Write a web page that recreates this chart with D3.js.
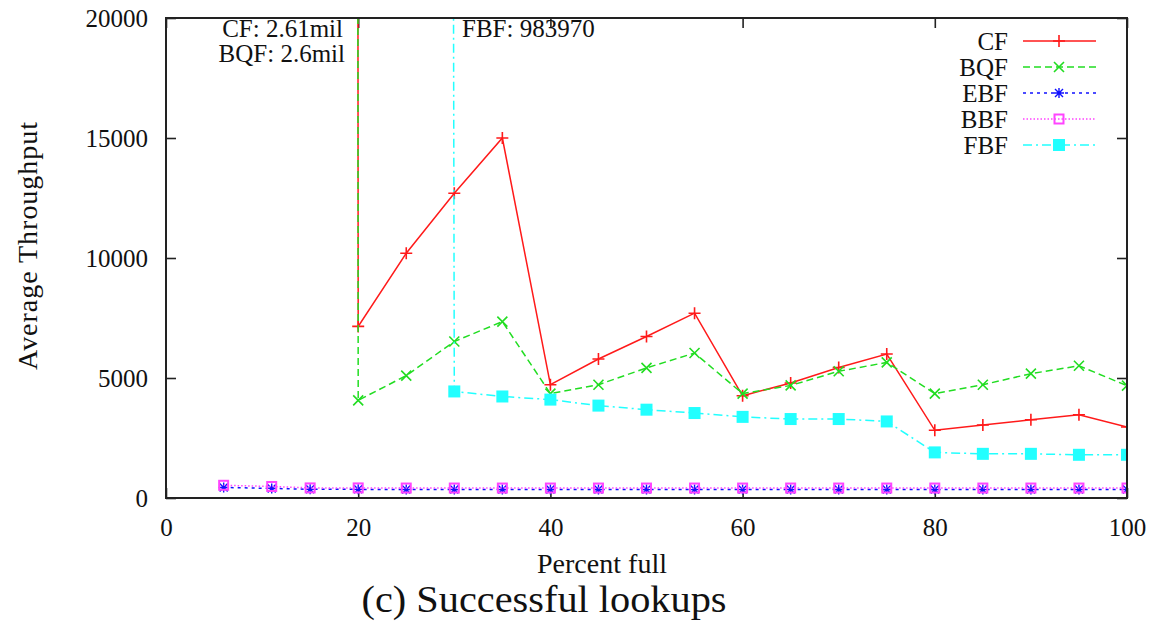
<!DOCTYPE html>
<html>
<head>
<meta charset="utf-8">
<script src="https://cdn.jsdelivr.net/npm/d3@7"></script>
<style>
  body { margin: 0; background: #fff; }
  text { font-family: "Liberation Serif", "Times New Roman", serif; fill: #111; }
</style>
</head>
<body>
<div id="chart"></div>
<script>
var svgWidth = 1173;
var svgHeight = 624;

var margin = { top: 18, right: 46, bottom: 126, left: 166 };
var width = svgWidth - margin.left - margin.right;
var height = svgHeight - margin.top - margin.bottom;

// percent full (x values)
var xMain = [15, 20, 25, 30, 35, 40, 45, 50, 55, 60, 65, 70, 75, 80, 85, 90, 95, 100];
var xSmall = [6, 11, 15, 20, 25, 30, 35, 40, 45, 50, 55, 60, 65, 70, 75, 80, 85, 90, 95, 100];
var xFbf = [25, 30, 35, 40, 45, 50, 55, 60, 65, 70, 75, 80, 85, 90, 95, 100];

// average throughput per filter
var cfValues = [2610000, 7150, 10200, 12700, 15000, 4720, 5790, 6730, 7700, 4260, 4790, 5440, 6000, 2820, 3040, 3260, 3470, 2960];
var bqfValues = [2600000, 4070, 5100, 6520, 7350, 4350, 4720, 5420, 6040, 4350, 4690, 5280, 5650, 4350, 4720, 5180, 5510, 4680];
var ebfValues = [440, 400, 360, 360, 350, 350, 350, 350, 350, 350, 350, 350, 350, 350, 350, 350, 350, 350, 350, 350];
var bbfValues = [530, 480, 420, 420, 415, 415, 415, 415, 415, 415, 415, 415, 415, 415, 415, 415, 415, 415, 415, 415];
var fbfValues = [983970, 4440, 4230, 4100, 3850, 3680, 3540, 3380, 3290, 3290, 3190, 1900, 1840, 1840, 1800, 1800];

var xTicks = [0, 20, 40, 60, 80, 100];
var yTicks = [0, 5000, 10000, 15000, 20000];

var series = [
  { name: "CF", x: xMain, y: cfValues, color: "#ff1a1a", dash: null, width: 1.5, marker: "plus" },
  { name: "BQF", x: xMain, y: bqfValues, color: "#22dd22", dash: "7,4", width: 1.5, marker: "cross" },
  { name: "EBF", x: xSmall, y: ebfValues, color: "#1010ff", dash: "3,4", width: 1.5, marker: "star" },
  { name: "BBF", x: xSmall, y: bbfValues, color: "#ff44ff", dash: "1.5,2", width: 1.5, marker: "openSquare" },
  { name: "FBF", x: xFbf, y: fbfValues, color: "#22ffff", dash: "9,4,2,4", width: 1.5, marker: "filledSquare" }
];

var svg = d3.select("#chart")
  .append("svg")
  .attr("width", svgWidth)
  .attr("height", svgHeight);

var chartGroup = svg.append("g")
  .attr("transform", `translate(${margin.left}, ${margin.top})`);

var xScale = d3.scaleLinear().domain([0, 100]).range([0, width]);
var yScale = d3.scaleLinear().domain([0, 20000]).range([height, 0]);

svg.append("defs").append("clipPath")
  .attr("id", "plotClip")
  .append("rect")
  .attr("width", width)
  .attr("height", height);

// draws one point symbol centred on 0,0
function drawMarker(g, type, color) {
  if (type === "plus") {
    g.append("path").attr("d", "M-6,0H6M0,-6V6")
      .attr("stroke", color).attr("stroke-width", 1.6).attr("fill", "none");
  } else if (type === "cross") {
    g.append("path").attr("d", "M-5,-5L5,5M-5,5L5,-5")
      .attr("stroke", color).attr("stroke-width", 1.6).attr("fill", "none");
  } else if (type === "star") {
    g.append("path").attr("d", "M-5,0H5M0,-5V5M-4,-4L4,4M-4,4L4,-4")
      .attr("stroke", color).attr("stroke-width", 1.4).attr("fill", "none");
  } else if (type === "openSquare") {
    g.append("rect").attr("x", -4.5).attr("y", -4.5).attr("width", 9).attr("height", 9)
      .attr("stroke", color).attr("stroke-width", 2).attr("fill", "none");
  } else if (type === "filledSquare") {
    g.append("rect").attr("x", -6).attr("y", -6).attr("width", 12).attr("height", 12)
      .attr("fill", color);
  }
}

// axes: ticks point inwards and are mirrored on top and right
var bottomAxis = d3.axisBottom(xScale).tickValues(xTicks).tickSize(-10).tickPadding(20).tickFormat(d3.format("d"));
var leftAxis = d3.axisLeft(yScale).tickValues(yTicks).tickSize(-10).tickPadding(18).tickFormat(d3.format("d"));
var topAxis = d3.axisTop(xScale).tickValues(xTicks).tickSize(-10).tickFormat("");
var rightAxis = d3.axisRight(yScale).tickValues(yTicks).tickSize(-10).tickFormat("");

var axes = [
  chartGroup.append("g").attr("transform", `translate(0, ${height})`).call(bottomAxis),
  chartGroup.append("g").call(leftAxis),
  chartGroup.append("g").call(topAxis),
  chartGroup.append("g").attr("transform", `translate(${width}, 0)`).call(rightAxis)
];
axes.forEach(function(a) {
  a.select(".domain").remove();
  a.selectAll("line").attr("stroke", "#222").attr("stroke-width", 1.6);
  a.selectAll("text")
    .style("font-family", "'Liberation Serif', serif")
    .style("font-size", "25px")
    .attr("fill", "#111");
});

var plot = chartGroup.append("g").attr("clip-path", "url(#plotClip)");

series.forEach(function(s) {
  var pts = s.x.map(function(d, i) { return [d, s.y[i]]; });
  var line = d3.line()
    .x(d => xScale(d[0]))
    .y(d => yScale(d[1]));

  plot.append("path")
    .datum(pts)
    .attr("d", line)
    .attr("fill", "none")
    .attr("stroke", s.color)
    .attr("stroke-width", s.width)
    .attr("stroke-dasharray", s.dash);

  plot.selectAll(null)
    .data(pts.filter(d => d[1] <= 20000))
    .enter()
    .append("g")
    .attr("transform", d => `translate(${xScale(d[0])},${yScale(d[1])})`)
    .each(function() { drawMarker(d3.select(this), s.marker, s.color); });
});

// plot frame
chartGroup.append("rect")
  .attr("width", width)
  .attr("height", height)
  .attr("fill", "none")
  .attr("stroke", "#222")
  .attr("stroke-width", 2);

// notes for the off-chart values
chartGroup.append("text").attr("x", 343 - margin.left).attr("y", 37 - margin.top)
  .attr("text-anchor", "end").style("font-size", "25px").text("CF: 2.61mil");
chartGroup.append("text").attr("x", 345 - margin.left).attr("y", 62 - margin.top)
  .attr("text-anchor", "end").style("font-size", "25px").text("BQF: 2.6mil");
chartGroup.append("text").attr("x", 462 - margin.left).attr("y", 37 - margin.top)
  .attr("text-anchor", "start").style("font-size", "25px").text("FBF: 983970");

// legend
var legend = svg.append("g");
series.forEach(function(s, i) {
  var y = 41 + i * 26;
  legend.append("text")
    .attr("x", 1008).attr("y", y).attr("dy", "0.35em")
    .attr("text-anchor", "end")
    .style("font-size", "25px")
    .text(s.name);
  legend.append("line")
    .attr("x1", 1023).attr("x2", 1096).attr("y1", y).attr("y2", y)
    .attr("stroke", s.color)
    .attr("stroke-width", s.width)
    .attr("stroke-dasharray", s.dash);
  drawMarker(legend.append("g").attr("transform", `translate(1059,${y})`), s.marker, s.color);
});

// axis labels and caption
svg.append("text")
  .attr("transform", "translate(37, 246) rotate(-90)")
  .attr("text-anchor", "middle")
  .style("font-size", "28px")
  .attr("textLength", 248)
  .text("Average Throughput");

svg.append("text")
  .attr("x", 602).attr("y", 573)
  .attr("text-anchor", "middle")
  .style("font-size", "28px")
  .attr("textLength", 130)
  .text("Percent full");

svg.append("text")
  .attr("x", 544).attr("y", 612)
  .attr("text-anchor", "middle")
  .style("font-size", "37px")
  .attr("textLength", 365)
  .attr("lengthAdjust", "spacingAndGlyphs")
  .text("(c) Successful lookups");
</script>
</body>
</html>
